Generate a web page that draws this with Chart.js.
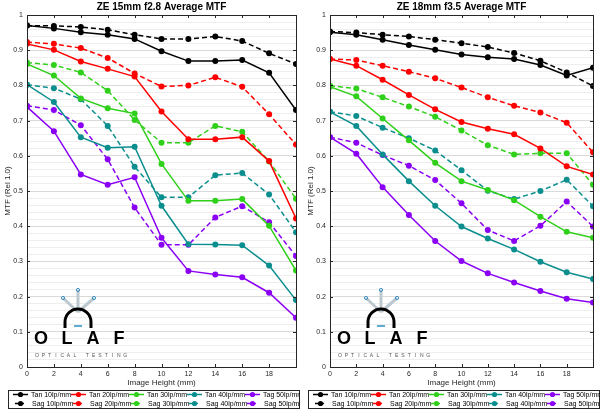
<!DOCTYPE html>
<html lang="en">
<head>
  <meta charset="UTF-8">
  <title>ZE MTF</title>
  <script src="https://cdn.jsdelivr.net/npm/chart.js@4.4.0/dist/chart.umd.min.js"></script>
  <style>
    html, body { margin: 0; padding: 0; background: #fff; }
    #wrap { position: relative; width: 600px; height: 411px; }
    .panel { position: absolute; top: 0; width: 300px; height: 411px; }
  </style>
</head>
<body>
  <div id="wrap">
    <div class="panel" style="left:0"><canvas id="c15" width="300" height="411"></canvas></div>
    <div class="panel" style="left:300px"><canvas id="c18" width="300" height="411"></canvas></div>
  </div>
  <script>
    // image height (mm)
    const heights = [0, 2, 4, 6, 8, 10, 12, 14, 16, 18, 20];
    const freqs = ['10', '20', '30', '40', '50'];

    // ZE 15mm f2.8
    const tan10_15 = [0.970, 0.962, 0.951, 0.944, 0.932, 0.897, 0.869, 0.869, 0.872, 0.836, 0.730];
    const sag10_15 = [0.970, 0.969, 0.966, 0.958, 0.944, 0.932, 0.932, 0.939, 0.926, 0.891, 0.861];
    const tan20_15 = [0.918, 0.901, 0.868, 0.847, 0.825, 0.726, 0.647, 0.647, 0.653, 0.585, 0.422];
    const sag20_15 = [0.923, 0.918, 0.906, 0.878, 0.834, 0.797, 0.800, 0.823, 0.796, 0.718, 0.632];
    const tan30_15 = [0.861, 0.828, 0.763, 0.735, 0.720, 0.577, 0.472, 0.472, 0.477, 0.401, 0.274];
    const sag30_15 = [0.865, 0.858, 0.837, 0.785, 0.702, 0.637, 0.637, 0.685, 0.668, 0.584, 0.478];
    const tan40_15 = [0.802, 0.753, 0.653, 0.623, 0.626, 0.458, 0.349, 0.348, 0.346, 0.288, 0.190];
    const sag40_15 = [0.802, 0.792, 0.761, 0.685, 0.569, 0.482, 0.482, 0.545, 0.551, 0.490, 0.383];
    const tan50_15 = [0.739, 0.670, 0.547, 0.518, 0.539, 0.367, 0.273, 0.263, 0.255, 0.211, 0.140];
    const sag50_15 = [0.742, 0.730, 0.687, 0.590, 0.453, 0.347, 0.347, 0.425, 0.457, 0.411, 0.315];

    // ZE 18mm f3.5
    const tan10_18 = [0.951, 0.944, 0.930, 0.915, 0.901, 0.888, 0.880, 0.875, 0.858, 0.828, 0.850];
    const sag10_18 = [0.953, 0.950, 0.944, 0.939, 0.930, 0.920, 0.909, 0.892, 0.870, 0.837, 0.798];
    const tan20_18 = [0.875, 0.856, 0.816, 0.773, 0.732, 0.696, 0.677, 0.661, 0.621, 0.570, 0.547];
    const sag20_18 = [0.875, 0.872, 0.856, 0.839, 0.820, 0.794, 0.766, 0.742, 0.723, 0.694, 0.610];
    const tan30_18 = [0.796, 0.769, 0.706, 0.644, 0.580, 0.528, 0.503, 0.474, 0.427, 0.384, 0.367];
    const sag30_18 = [0.799, 0.791, 0.766, 0.740, 0.711, 0.672, 0.630, 0.604, 0.607, 0.607, 0.518];
    const tan40_18 = [0.725, 0.685, 0.604, 0.528, 0.458, 0.399, 0.365, 0.334, 0.299, 0.269, 0.250];
    const sag40_18 = [0.725, 0.713, 0.680, 0.650, 0.615, 0.559, 0.501, 0.477, 0.500, 0.532, 0.457];
    const tan50_18 = [0.653, 0.606, 0.511, 0.432, 0.358, 0.301, 0.266, 0.240, 0.216, 0.194, 0.183];
    const sag50_18 = [0.653, 0.637, 0.602, 0.572, 0.531, 0.465, 0.389, 0.358, 0.401, 0.470, 0.399];

    const colors = ['#000000', '#ff0000', '#2fd019', '#0b8e8e', '#8a00f5'];
    const FONT = '"Liberation Sans", Arial, sans-serif';
    const AXIS = '#262626';

    const isMajor = v => Math.abs(v * 10 - Math.round(v * 10)) < 1e-6;

    // title, frame, inward ticks, axis titles, legend
    const decorPlugin = {
      id: 'decor',
      beforeDatasetsDraw(chart) {
        drawLogo(chart.ctx, chart.chartArea.left + 8, 0);
      },
      afterDraw(chart) {
        const ctx = chart.ctx;
        const a = chart.chartArea;
        const xs = chart.scales.x, ys = chart.scales.y;
        ctx.save();
        ctx.strokeStyle = AXIS;
        ctx.lineWidth = 1;
        ctx.strokeRect(Math.round(a.left) + 0.5, Math.round(a.top) + 0.5, Math.round(a.right - a.left), Math.round(a.bottom - a.top));
        ctx.beginPath();
        for (let v = 2; v < 20; v += 2) {
          const px = Math.round(xs.getPixelForValue(v)) + 0.5;
          ctx.moveTo(px, a.bottom); ctx.lineTo(px, a.bottom - 3);
          ctx.moveTo(px, a.top); ctx.lineTo(px, a.top + 3);
        }
        for (let i = 1; i < 10; i++) {
          const py = Math.round(ys.getPixelForValue(i / 10)) + 0.5;
          ctx.moveTo(a.left, py); ctx.lineTo(a.left + 3, py);
          ctx.moveTo(a.right, py); ctx.lineTo(a.right - 3, py);
        }
        ctx.stroke();

        const cx = (a.left + a.right) / 2;
        ctx.fillStyle = '#000';
        ctx.textAlign = 'center';
        ctx.textBaseline = 'middle';
        ctx.font = 'bold 10px ' + FONT;
        ctx.fillText(chart.options.plugins.decor.title, cx, 7);

        ctx.fillStyle = AXIS;
        ctx.font = '8px ' + FONT;
        ctx.fillText('Image Height (mm)', cx, 383);
        ctx.save();
        ctx.translate(a.left - 19, (a.top + a.bottom) / 2);
        ctx.rotate(-Math.PI / 2);
        ctx.fillText('MTF (Rel 1.0)', 0, 0);
        ctx.restore();

        // legend
        const bx = 8, by = 390, bw = 291, bh = 18;
        ctx.fillStyle = '#fff';
        ctx.fillRect(bx, by, bw, bh);
        ctx.strokeStyle = AXIS;
        ctx.strokeRect(bx + 0.5, by + 0.5, bw, bh);
        ctx.font = '7px ' + FONT;
        ctx.textAlign = 'left';
        const ds = chart.data.datasets;
        for (let i = 0; i < 5; i++) {
          const x0 = 13 + i * 58;
          [0, 1].forEach(r => {
            const d = ds[i * 2 + r];
            const y = r === 0 ? 394.5 : 403.5;
            ctx.strokeStyle = d.borderColor;
            ctx.lineWidth = 1.5;
            ctx.setLineDash(r === 0 ? [] : [3, 3]);
            ctx.beginPath();
            ctx.moveTo(x0 + (r ? 2 : 0), y); ctx.lineTo(x0 + (r ? 13 : 15), y);
            ctx.stroke();
            ctx.setLineDash([]);
            ctx.fillStyle = d.borderColor;
            ctx.beginPath();
            ctx.arc(x0 + 7.5, y, 2.6, 0, Math.PI * 2);
            ctx.fill();
            ctx.fillStyle = '#000';
            ctx.fillText(d.label, x0 + (r ? 19 : 18), y + 0.5);
          });
        }
        ctx.restore();
      }
    };

    function drawLogo(ctx, lx, ly) {
      ctx.save();
      // rays
      const ox = lx + 43, oy = ly + 312;
      const rays = [[lx + 28, ly + 298], [lx + 43, ly + 290], [lx + 59, ly + 298]];
      rays.forEach(([ex, ey]) => {
        ctx.strokeStyle = '#bcc8d0';
        ctx.lineWidth = 3;
        ctx.beginPath(); ctx.moveTo(ox, oy); ctx.lineTo(ex, ey); ctx.stroke();
        ctx.strokeStyle = '#3b8fc2';
        ctx.lineWidth = 1;
        ctx.beginPath(); ctx.arc(ex, ey, 1.6, 0, Math.PI * 2); ctx.stroke();
      });
      // arch
      ctx.strokeStyle = '#000';
      ctx.lineWidth = 3;
      ctx.beginPath();
      ctx.moveTo(lx + 30, ly + 328);
      ctx.lineTo(lx + 30, ly + 322);
      ctx.arc(lx + 43, ly + 322, 13, Math.PI, 2 * Math.PI);
      ctx.lineTo(lx + 56, ly + 328);
      ctx.stroke();
      ctx.strokeStyle = '#2a8fc4';
      ctx.lineWidth = 1.5;
      ctx.beginPath(); ctx.moveTo(lx + 39, ly + 326); ctx.lineTo(lx + 47, ly + 326); ctx.stroke();
      // letters
      ctx.fillStyle = '#000';
      ctx.textAlign = 'center';
      ctx.textBaseline = 'alphabetic';
      ctx.font = 'bold 18px ' + FONT;
      ['O', 'L', 'A', 'F'].forEach((ch, i) => ctx.fillText(ch, lx + 6 + i * 26, ly + 344));
      ctx.fillStyle = '#555';
      ctx.font = '5px ' + FONT;
      'OPTICAL TESTING'.split('').forEach((ch, i) => ctx.fillText(ch, lx + 2 + i * 6.3, ly + 357));
      ctx.restore();
    }

    function makeDatasets(tans, sags) {
      const out = [];
      for (let i = 0; i < 5; i++) {
        [[tans[i], 'Tan', []], [sags[i], 'Sag', [5, 3]]].forEach(([vals, kind, dash]) => {
          out.push({
            label: (kind === 'Tan' && i === 4 ? 'Tag' : kind) + ' ' + freqs[i] + 'lp/mm',
            data: heights.map((h, k) => ({ x: h, y: vals[k] })),
            borderColor: colors[i],
            backgroundColor: colors[i],
            borderWidth: 1.5,
            borderDash: dash,
            pointRadius: 3,
            pointBorderWidth: 0,
            tension: 0
          });
        });
      }
      return out;
    }

    function makeChart(id, title, tans, sags, leftW, rightPad) {
      return new Chart(document.getElementById(id), {
        type: 'line',
        data: { datasets: makeDatasets(tans, sags) },
        options: {
          responsive: false,
          animation: false,
          devicePixelRatio: 1,
          layout: { padding: { left: 0, right: rightPad, top: 15, bottom: 0 } },
          plugins: {
            legend: { display: false },
            tooltip: { enabled: false },
            decor: { title: title }
          },
          scales: {
            x: {
              type: 'linear', min: 0, max: 20,
              afterFit: s => { s.height = 44; },
              grid: { display: false, drawTicks: false },
              border: { display: false },
              ticks: {
                stepSize: 2, autoSkip: false, maxRotation: 0, padding: 3,
                color: AXIS, font: { size: 7, family: FONT },
                callback: v => (v < 20 ? String(v) : '')
              }
            },
            y: {
              min: 0, max: 1,
              afterFit: s => { s.width = leftW; },
              grid: {
                drawTicks: false,
                color: c => (isMajor(c.tick.value) ? '#dadada' : '#eeeeee'),
                lineWidth: 1
              },
              border: { display: false },
              ticks: {
                stepSize: 0.02, autoSkip: false, maxTicksLimit: 100, padding: 4,
                color: AXIS, font: { size: 7, family: FONT },
                callback: v => (isMajor(v) ? String(Math.round(v * 10) / 10) : '')
              }
            }
          }
        },
        plugins: [decorPlugin]
      });
    }

    makeChart('c15', 'ZE 15mm f2.8 Average MTF',
      [tan10_15, tan20_15, tan30_15, tan40_15, tan50_15],
      [sag10_15, sag20_15, sag30_15, sag40_15, sag50_15],
      27, 3);

    makeChart('c18', 'ZE 18mm f3.5 Average MTF',
      [tan10_18, tan20_18, tan30_18, tan40_18, tan50_18],
      [sag10_18, sag20_18, sag30_18, sag40_18, sag50_18],
      30, 7);
  </script>
</body>
</html>
